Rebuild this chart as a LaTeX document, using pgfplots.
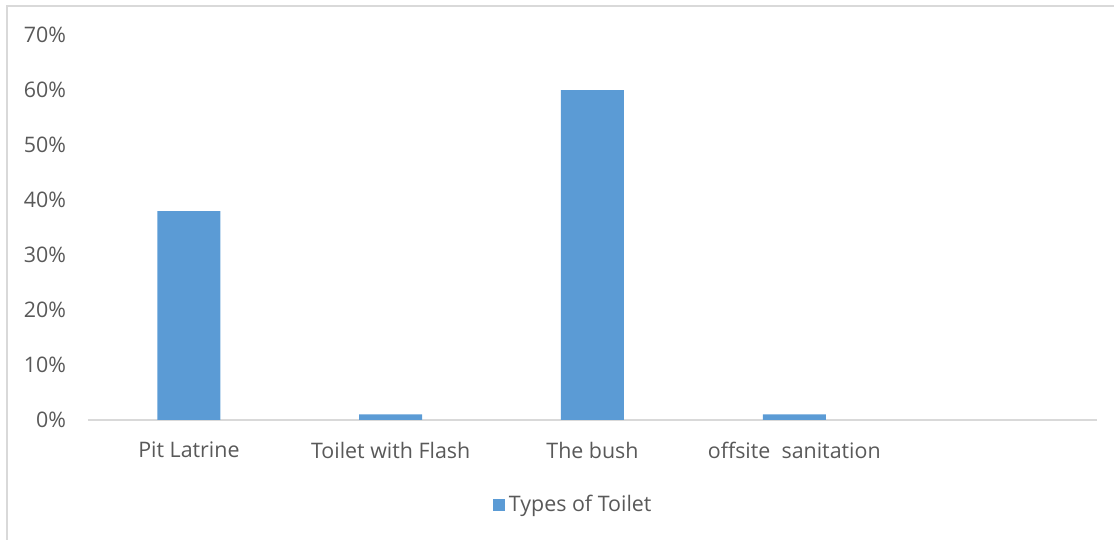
\documentclass[border=0pt]{standalone}
\usepackage{fontspec}
\setmainfont{Open Sans}
\usepackage{pgfplots}
\pgfplotsset{compat=1.18}
\definecolor{barblue}{HTML}{5B9BD5}
\definecolor{linegray}{HTML}{D9D9D9}
\definecolor{textgray}{HTML}{595959}
\begin{document}
\begin{tikzpicture}
\useasboundingbox (0,0) rectangle (557pt,270pt);
\draw[linegray, line width=0.8pt] (3.5pt,-1pt) -- (3.5pt,267pt) -- (560pt,267pt);
\begin{axis}[
  at={(44pt,60pt)}, anchor=south west,
  scale only axis, width=504.5pt, height=192.5pt,
  xmin=-0.5, xmax=4.5, ymin=0, ymax=70,
  axis x line=bottom, axis y line=left,
  x axis line style={-, draw=linegray, line width=0.8pt},
  y axis line style={draw=none},
  major tick length=0pt,
  xtick={0,1,2,3},
  xticklabels={Pit Latrine, Toilet with Flash, The bush, offsite\ \ sanitation},
  ytick={0,10,20,30,40,50,60,70},
  yticklabels={0\%,10\%,20\%,30\%,40\%,50\%,60\%,70\%},
  tick label style={font=\fontsize{10.7}{12.5}\selectfont, text=textgray},
  yticklabel style={xshift=-7.5pt},
  xticklabel style={yshift=-7.5pt},
  legend style={at={(0.4817,-0.2208)}, anchor=center, draw=none, font=\fontsize{10.7}{12.5}\selectfont, text=textgray, legend image code/.code={\fill[barblue] (-1pt,-3.1pt) rectangle (5.2pt,3.1pt);}},
  clip=false,
]
\addplot[ybar, bar width=31.5pt, fill=barblue, draw=none] coordinates {(0,38) (1,1) (2,60) (3,1)};
\addlegendentry{Types of Toilet}
\end{axis}
\end{tikzpicture}
\end{document}
